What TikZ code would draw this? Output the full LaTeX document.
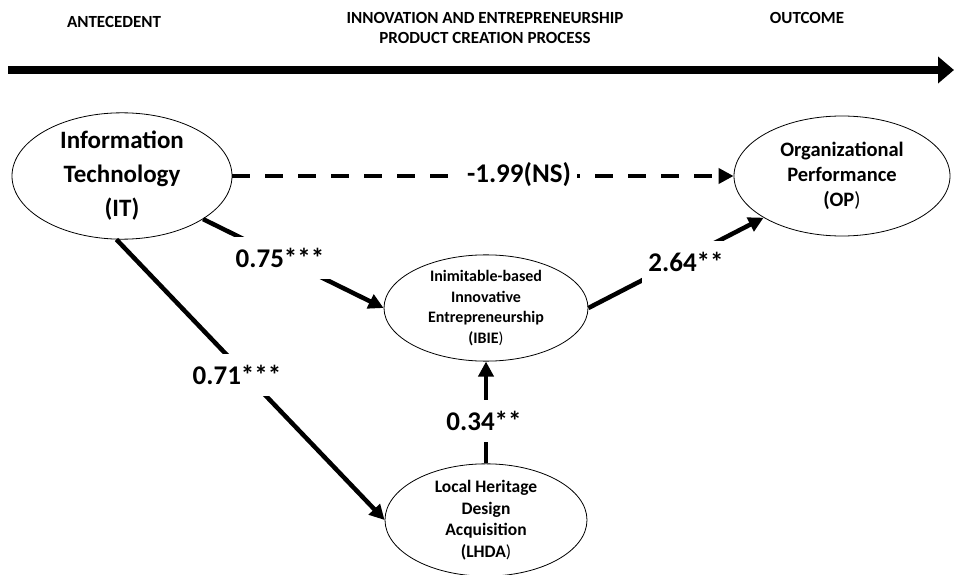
\documentclass[tikz,border=0pt]{standalone}
\usepackage{fontspec}
\setmainfont{Carlito}
\usetikzlibrary{shapes.geometric,arrows.meta}

\begin{document}
\begin{tikzpicture}[x=1pt, y=-1pt,
    header/.style={align=center, font=\fontsize{17}{20}\selectfont\bfseries},
    construct/.style={draw, ellipse, inner sep=0pt, align=center, line width=0.8pt},
    link/.style={line width=4.5pt, -{Triangle[length=15pt,width=15pt]}},
    nslink/.style={link, dash pattern=on 18pt off 15pt},
    coef/.style={fill=white, inner xsep=6pt, inner ysep=11pt, font=\fontsize{27}{30}\selectfont\bfseries}]
    \useasboundingbox (0,0) rectangle (954,575);
    % stages of the process
    \node [header] (antecedent) at (114,22) {ANTECEDENT};
    \node [header] (process) at (485,28) {INNOVATION AND ENTREPRENEURSHIP\\PRODUCT CREATION PROCESS};
    \node [header] (outcome) at (807,18) {OUTCOME};
    \coordinate (tl start) at (8,70);
    \coordinate (tl end) at (954,70);
    \draw [line width=8pt, -{Triangle[length=16pt,width=26pt]}] (tl start) -- (tl end);
    % constructs
    \node [construct, minimum width=220pt, minimum height=118pt, font=\fontsize{25}{34}\selectfont\bfseries] (it) at (122,176) {Information\\Technology\\(IT)};
    \node [construct, minimum width=216pt, minimum height=120pt, font=\fontsize{20.5}{25}\selectfont\bfseries] (op) at (842,176) {Organizational\\Performance\\(OP{\mdseries)}};
    \node [construct, minimum width=204pt, minimum height=106pt, font=\fontsize{16}{20.5}\selectfont\bfseries] (ibie) at (486,308) {Inimitable-based\\Innovative\\Entrepreneurship\\(IBIE{\mdseries)}};
    \node [construct, minimum width=202pt, minimum height=106pt, font=\fontsize{17.5}{21.5}\selectfont\bfseries] (lhda) at (486,520) {Local Heritage\\Design\\Acquisition\\(LHDA{\mdseries)}};
    \draw [nslink] (it.east) -- (op.west);
    \draw [link] (it.-28) -- (ibie.west);
    \draw [link] (it.-95) -- (lhda.west);
    \draw [link] (lhda.north) -- (ibie.south);
    \draw [link] (ibie.east) -- (op.-152);
    % path coefficients
    \node [coef] (b-it-op) at (519,175) {-1.99(NS)};
    \node [coef] (b-it-ibie) at (280,258) {0.75***};
    \node [coef] (b-it-lhda) at (237,375) {0.71***};
    \node [coef] (b-lhda-ibie) at (484,421) {0.34**};
    \node [coef] (b-ibie-op) at (686,262) {2.64**};
\end{tikzpicture}
\end{document}
